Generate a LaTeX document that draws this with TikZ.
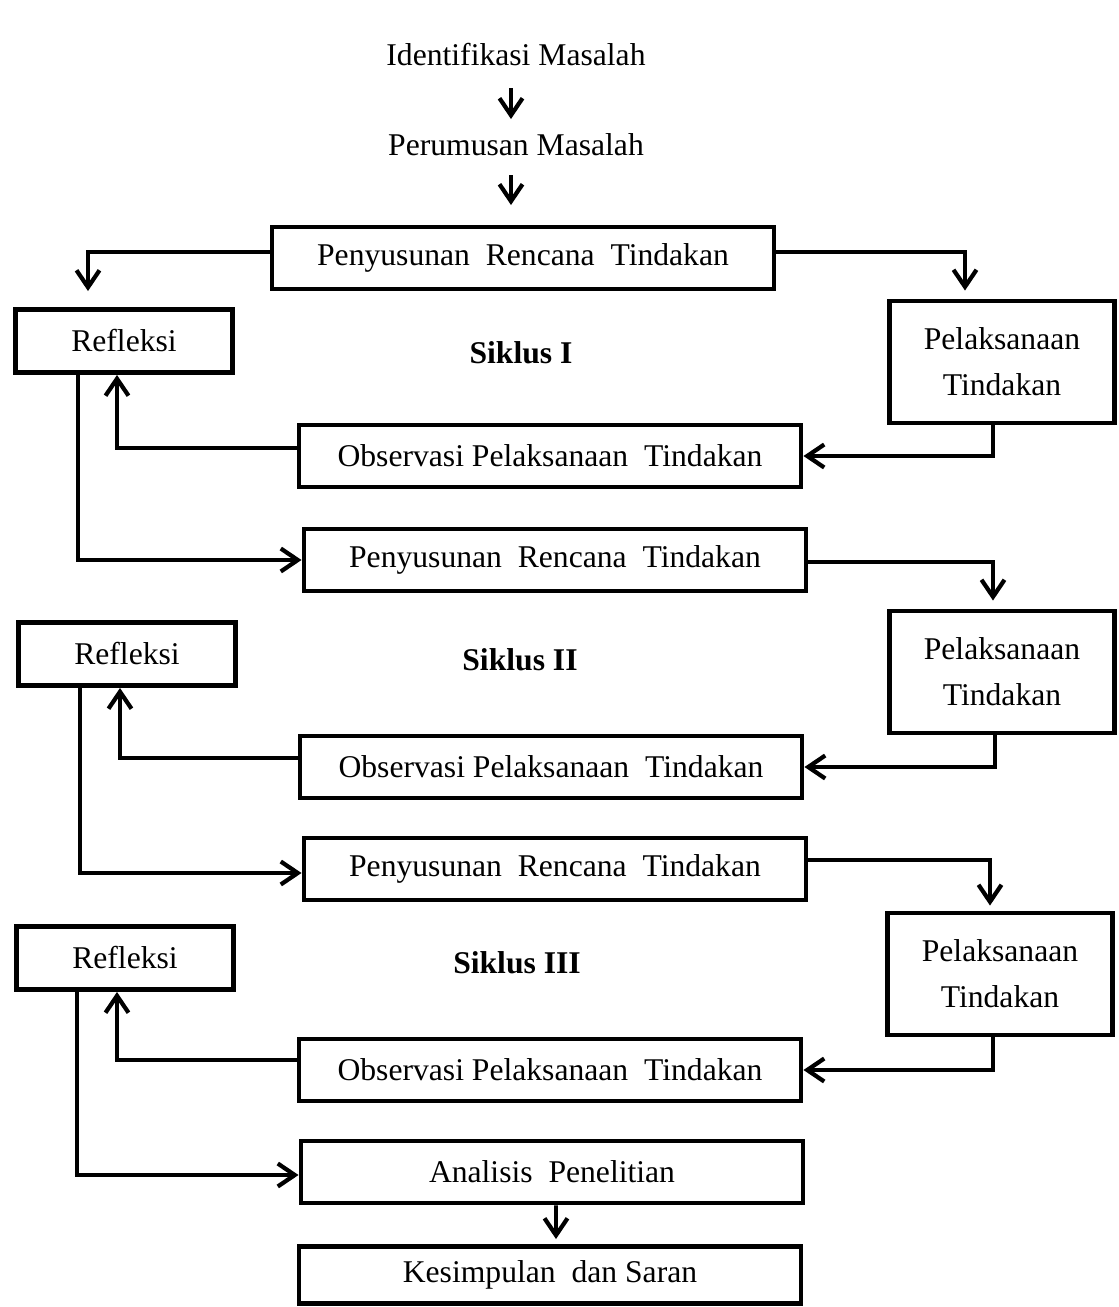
\documentclass[tikz,border=0pt]{standalone}
\usepackage{fontspec}
\setmainfont{Liberation Serif}
\usetikzlibrary{arrows.meta,positioning}
\begin{document}
\begin{tikzpicture}[
    node distance=2cm,
    font=\fontsize{18}{22}\selectfont,
    box/.style={rectangle, draw, line width=2.8pt, minimum width=10.04cm, minimum height=1.24cm, align=center},
    refbox/.style={box, minimum width=4.34cm, minimum height=1.26cm},
    pelbox/.style={box, minimum width=4.5cm, minimum height=2.44cm, font=\fontsize{18}{26}\selectfont},
    label/.style={align=center},
    siklus/.style={font=\fontsize{18}{22}\selectfont\bfseries},
    arrow/.style={-{Straight Barb[length=0.34cm, width=0.46cm, line width=2.4pt]}, line width=2.2pt}
]
    \useasboundingbox (0,0) rectangle (22.38,-26.14);

    % Start
    \node[label] (ident) at (10.32,-1.10) {Identifikasi Masalah};
    \node[label, below of=ident, yshift=0.2cm] (perum) {Perumusan Masalah};

    % Siklus I
    \node[box, below of=perum, xshift=0.14cm, yshift=-0.26cm] (prt1) {Penyusunan \ Rencana \ Tindakan};
    \node[siklus, below of=prt1, xshift=-0.04cm, yshift=0.1cm] (sik1) {Siklus I};
    \node[refbox, left of=sik1, xshift=-5.94cm, yshift=0.24cm] (ref1) {Refleksi};
    \node[pelbox, right of=sik1, xshift=7.62cm, yshift=-0.18cm] (pel1) {Pelaksanaan\\Tindakan};
    \node[box, below of=sik1, xshift=0.58cm, yshift=-0.06cm] (obs1) {Observasi Pelaksanaan \ Tindakan};

    % Siklus II
    \node[box, below of=obs1, xshift=0.1cm, yshift=-0.08cm] (prt2) {Penyusunan \ Rencana \ Tindakan};
    \node[siklus, below of=prt2, xshift=-0.7cm] (sik2) {Siklus II};
    \node[refbox, left of=sik2, xshift=-5.86cm, yshift=0.12cm] (ref2) {Refleksi};
    \node[pelbox, right of=sik2, xshift=7.64cm, yshift=-0.24cm] (pel2) {Pelaksanaan\\Tindakan};
    \node[box, below of=sik2, xshift=0.62cm, yshift=-0.14cm] (obs2) {Observasi Pelaksanaan \ Tindakan};

    % Siklus III
    \node[box, below of=obs2, xshift=0.08cm, yshift=-0.04cm] (prt3) {Penyusunan \ Rencana \ Tindakan};
    \node[siklus, below of=prt3, xshift=-0.76cm, yshift=0.12cm] (sik3) {Siklus III};
    \node[refbox, left of=sik3, xshift=-5.84cm, yshift=0.1cm] (ref3) {Refleksi};
    \node[pelbox, right of=sik3, xshift=7.66cm, yshift=-0.22cm] (pel3) {Pelaksanaan\\Tindakan};
    \node[box, below of=sik3, xshift=0.66cm, yshift=-0.14cm] (obs3) {Observasi Pelaksanaan \ Tindakan};

    % End
    \node[box, below of=obs3, xshift=0.04cm, yshift=-0.04cm] (anal) {Analisis \ Penelitian};
    \node[box, below of=anal, xshift=-0.04cm, yshift=-0.06cm, minimum height=1.14cm] (kes) {Kesimpulan \ dan Saran};

    % Arrows
    \draw[arrow, line width=1.8pt] ([xshift=-0.1cm, yshift=-0.66cm]ident.center) -- ([xshift=-0.1cm, yshift=0.52cm]perum.center);
    \draw[arrow, line width=1.8pt] ([xshift=-0.1cm, yshift=-0.6cm]perum.center) -- ([xshift=-0.24cm, yshift=1.06cm]prt1.center);

    \draw[arrow, shorten >=0.32cm] ([yshift=0.12cm]prt1.west) -| ([xshift=-0.72cm]ref1.north);
    \draw[arrow, shorten >=0.16cm] ([yshift=0.12cm]prt1.east) -| ([xshift=-0.74cm]pel1.north);
    \draw[arrow] ([xshift=-0.18cm]pel1.south) |- (obs1.east);
    \draw[arrow] ([yshift=0.16cm]obs1.west) -| ([xshift=-0.14cm]ref1.south);
    \draw[arrow] ([xshift=-0.92cm]ref1.south) |- (prt2.west);

    \draw[arrow, shorten >=0.16cm] ([yshift=-0.04cm]prt2.east) -| ([xshift=-0.18cm]pel2.north);
    \draw[arrow] ([xshift=-0.14cm]pel2.south) |- (obs2.east);
    \draw[arrow] ([yshift=0.18cm]obs2.west) -| ([xshift=-0.14cm]ref2.south);
    \draw[arrow] ([xshift=-0.94cm]ref2.south) |- ([yshift=-0.08cm]prt3.west);

    \draw[arrow, shorten >=0.1cm] ([yshift=0.18cm]prt3.east) -| ([xshift=-0.2cm]pel3.north);
    \draw[arrow] ([xshift=-0.14cm]pel3.south) |- (obs3.east);
    \draw[arrow] ([yshift=0.2cm]obs3.west) -| ([xshift=-0.16cm]ref3.south);
    \draw[arrow] ([xshift=-0.96cm]ref3.south) |- ([yshift=-0.06cm]anal.west);

    \draw[arrow, shorten >=0.1cm] ([xshift=0.08cm]anal.south) -- ([xshift=0.12cm]kes.north);

\end{tikzpicture}
\end{document}
